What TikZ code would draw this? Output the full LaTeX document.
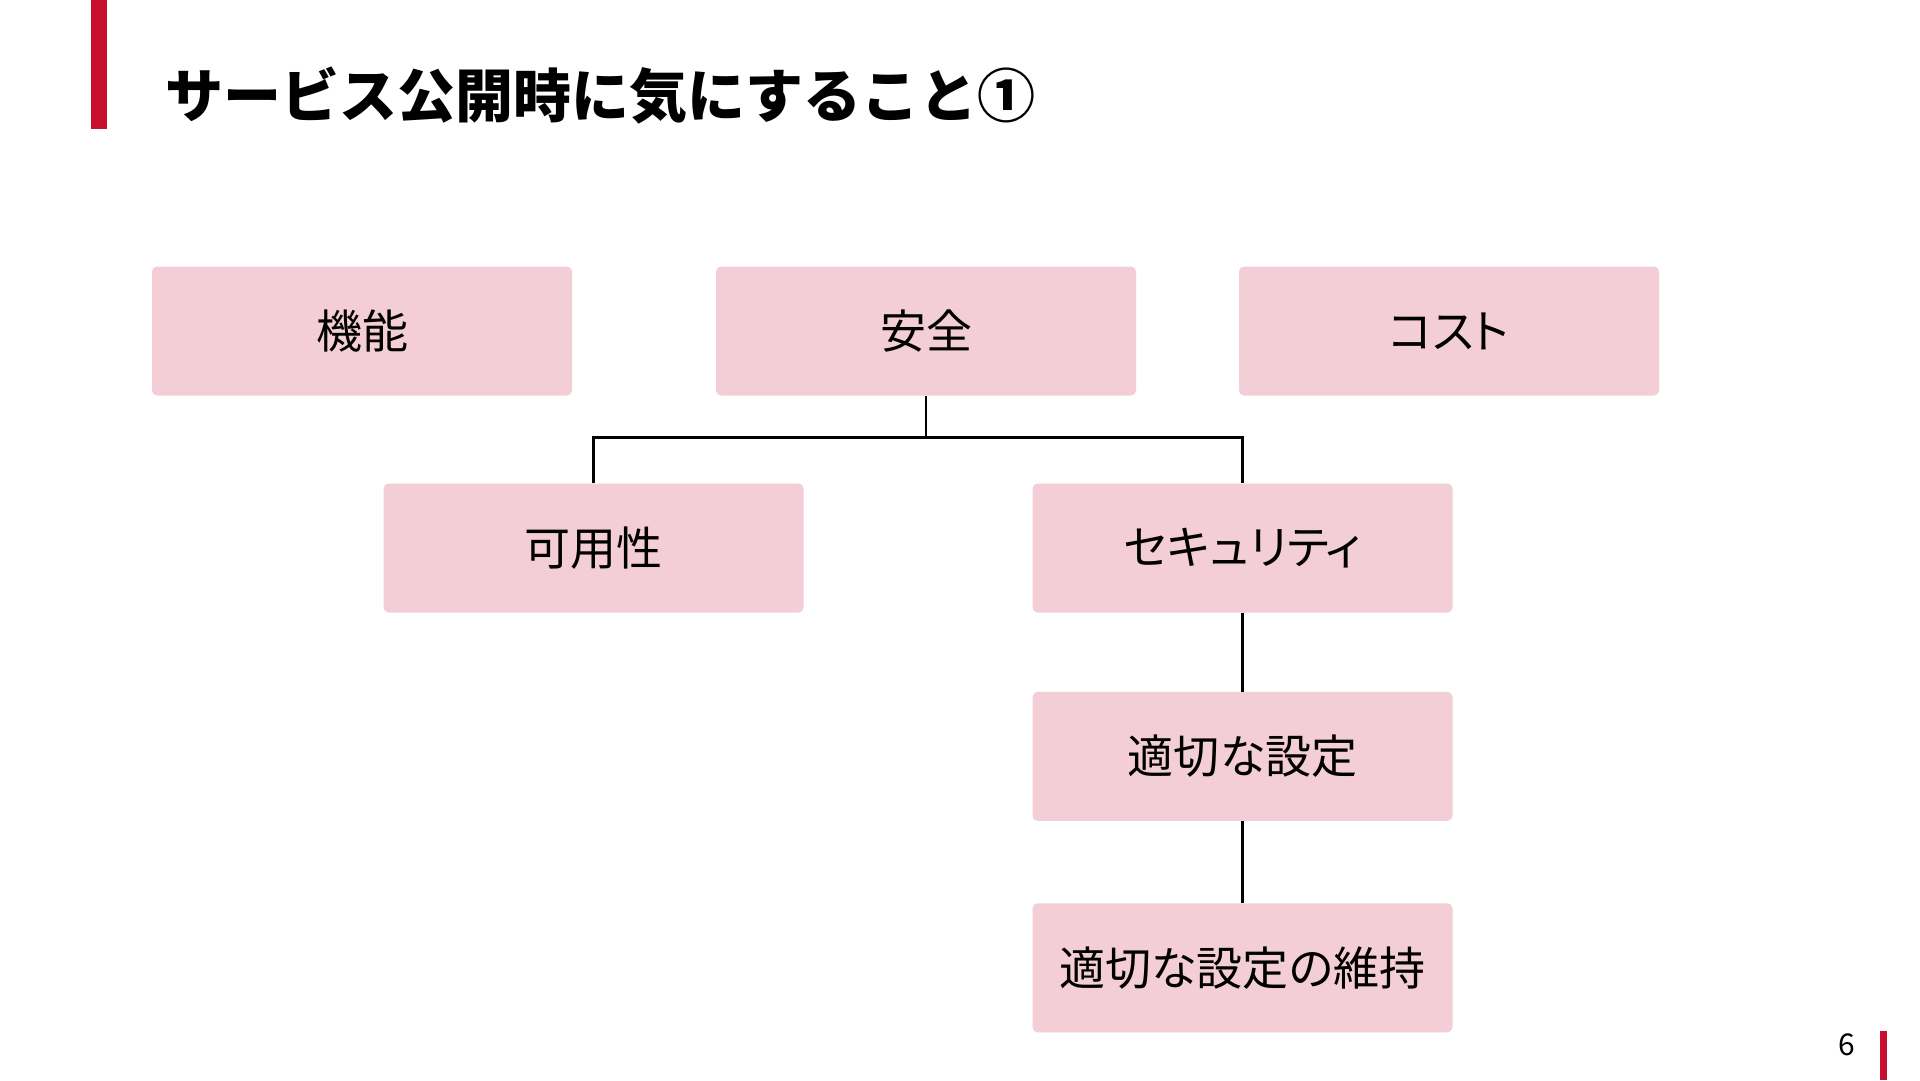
\documentclass[tikz,border=0pt]{standalone}
\usepackage{fontspec}
\setmainfont{Noto Sans CJK JP}
\newfontfamily\jpfont{Noto Sans CJK JP}[RawFeature=+palt]
\usetikzlibrary{positioning}

\definecolor{boxpink}{HTML}{F3CED6}
\definecolor{barred}{HTML}{C8102E}

\tikzset{
	topic/.style={fill=boxpink, rounded corners=5pt, minimum width=420pt,
		minimum height=129pt, inner sep=0pt,
		font=\fontsize{46}{52}\selectfont\jpfont},
	link/.style={draw=black, line width=2.5pt},
}

\begin{document}
\begin{tikzpicture}[x=1pt,y=-1pt]
		\useasboundingbox[fill=white] (0,0) rectangle (1920,1080);

		%%% TITOLO
		\fill[barred] (91,0) rectangle (107,129);
		\node[anchor=west, inner sep=0pt, font=\fontsize{58}{64}\selectfont\bfseries]
			(title) at (165,96) {サービス公開時に気にすること①};

		%%% RIGA 1
		\node[topic] (kinou) at (362,331) {機能};
		\node[topic] (anzen) at (926,331) {安全};
		\node[topic] (cost) at (1449,331) {コスト};

		%%% RIGA 2
		\node[topic] (kayou) at (593.5,548) {可用性};
		\node[topic] (security) at (1242.5,548) {セキュリティ};

		%%% RIGHE 3-4
		\node[topic, below=79pt of security] (settei) {適切な設定};
		\node[topic, below=82pt of settei] (iji) {適切な設定の維持};

		%%% RELAZIONI
		\draw[link] (anzen.south) -- ++(0,42) coordinate (fork);
		\draw[link] (kayou.north) |- (fork) -| (security.north);
		\draw[link] (security.south) -- (settei.north);
		\draw[link] (settei.south) -- (iji.north);

		%%% PAGINA
		\node[font=\fontsize{30}{30}\selectfont] (pagenum) at (1847,1045) {6};
		\fill[barred] (1880,1031) rectangle (1887,1080);
	\end{tikzpicture}
\end{document}
